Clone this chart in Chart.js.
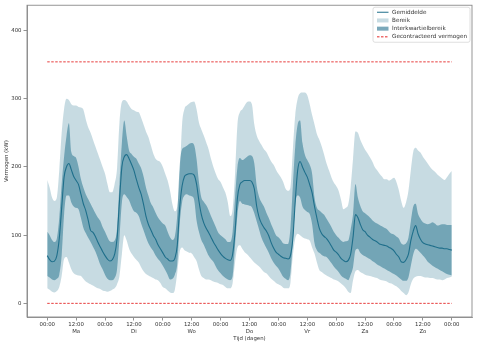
<!DOCTYPE html>
<html>
<head>
<meta charset="utf-8">
<script src="https://cdn.jsdelivr.net/npm/chart.js@4.4.0/dist/chart.umd.min.js"></script>
<style>
  html, body { margin: 0; padding: 0; background: #fff; }
</style>
</head>
<body>
<canvas id="weekChart" width="481" height="346"></canvas>
<script>
// Weekprofiel vermogen, per uur (ma 00:00 t/m ma 00:00)
const dagen = ['Ma', 'Di', 'Wo', 'Do', 'Vr', 'Za', 'Zo'];
const gecontracteerd = 354;

const gemiddelde = [
  70, 64, 61, 62, 70, 95, 140, 185, 200, 205, 196, 186, 180, 174, 160, 146, 136, 122, 107, 104, 98, 90, 83, 76,
  70, 65, 62, 64, 72, 95, 150, 200, 215, 218, 212, 204, 195, 182, 170, 160, 145, 128, 116, 108, 100, 94, 86, 80,
  74, 68, 65, 62, 62, 66, 85, 140, 172, 186, 189, 190, 190, 188, 175, 150, 130, 118, 110, 104, 97, 90, 84, 78,
  73, 69, 66, 64, 63, 72, 105, 155, 174, 178, 180, 180, 180, 178, 168, 142, 126, 117, 111, 106, 99, 89, 81, 75,
  72, 69, 67, 66, 65, 70, 95, 150, 195, 208, 200, 192, 185, 174, 162, 142, 125, 110, 102, 98, 95, 90, 84, 78,
  75, 71, 66, 63, 61, 63, 72, 97, 130, 126, 116, 108, 105, 100, 97, 94, 92, 90, 87, 86, 85, 84, 82, 80,
  77, 72, 68, 61, 60, 64, 72, 92, 106, 114, 102, 94, 89, 87, 86, 85, 84, 83, 82, 81, 81, 80, 80, 79,
  78
];

const kwartiel3 = [
  105, 100, 93, 90, 95, 125, 175, 215, 245, 264, 222, 216, 213, 200, 182, 170, 160, 153, 146, 139, 132, 126, 121, 112,
  105, 97, 91, 90, 92, 110, 175, 235, 268, 245, 224, 219, 215, 212, 205, 198, 186, 170, 158, 147, 141, 133, 126, 121,
  117, 114, 105, 97, 93, 98, 130, 200, 226, 229, 231, 234, 235, 232, 212, 178, 155, 149, 144, 137, 128, 120, 112, 104,
  100, 97, 94, 90, 90, 105, 155, 200, 213, 210, 212, 215, 217, 216, 205, 172, 156, 148, 142, 133, 125, 116, 108, 100,
  97, 93, 88, 87, 87, 110, 172, 230, 262, 268, 235, 218, 210, 203, 190, 155, 140, 136, 133, 130, 124, 118, 112, 105,
  100, 96, 92, 90, 91, 92, 108, 131, 175, 155, 143, 135, 132, 129, 126, 122, 119, 117, 115, 113, 111, 109, 105, 102,
  101, 98, 95, 88, 86, 88, 96, 120, 142, 146, 131, 124, 119, 117, 116, 117, 119, 117, 114, 115, 116, 116, 115, 115,
  115
];

const kwartiel1 = [
  40, 38, 35, 34, 36, 42, 70, 130, 158, 158, 148, 142, 140, 138, 125, 111, 103, 96, 90, 83, 76, 67, 57, 50,
  42, 36, 34, 34, 37, 50, 95, 148, 160, 156, 151, 142, 135, 133, 128, 117, 107, 97, 88, 82, 77, 70, 65, 61,
  55, 49, 42, 35, 36, 42, 58, 115, 148, 158, 160, 158, 157, 152, 122, 105, 93, 86, 78, 70, 65, 61, 54, 48,
  44, 40, 37, 35, 34, 40, 85, 130, 150, 146, 145, 144, 143, 141, 132, 120, 108, 96, 88, 81, 74, 66, 60, 55,
  51, 45, 39, 36, 34, 45, 90, 145, 158, 155, 142, 137, 134, 131, 116, 88, 78, 74, 71, 69, 68, 64, 59, 54,
  50, 46, 41, 38, 36, 34, 42, 53, 78, 80, 74, 71, 69, 67, 65, 62, 60, 57, 55, 53, 51, 49, 47, 45,
  43, 41, 38, 35, 33, 33, 38, 55, 72, 80, 78, 74, 70, 66, 61, 58, 55, 53, 51, 49, 47, 45, 43, 42,
  41
];

const maximum = [
  181, 170, 155, 150, 155, 195, 250, 285, 300, 298, 292, 290, 290, 288, 287, 284, 270, 258, 250, 240, 230, 220, 210, 200,
  190, 175, 163, 163, 175, 198, 265, 295, 298, 296, 290, 285, 283, 281, 280, 272, 262, 252, 244, 232, 220, 212, 209, 207,
  200, 190, 180, 165, 145, 135, 142, 185, 262, 285, 290, 293, 295, 296, 285, 265, 255, 246, 236, 226, 212, 200, 190, 182,
  178, 170, 162, 148, 128, 138, 190, 262, 280, 284, 290, 295, 296, 292, 262, 246, 238, 232, 226, 222, 215, 208, 203, 196,
  190, 185, 178, 168, 165, 170, 225, 276, 300, 308, 309, 309, 305, 292, 276, 262, 248, 240, 230, 218, 205, 195, 185, 177,
  172, 165, 152, 138, 140, 145, 170, 212, 252, 250, 240, 232, 225, 220, 214, 208, 200, 195, 190, 186, 182, 182, 180, 182,
  184, 178, 166, 150, 140, 148, 165, 195, 222, 228, 224, 221, 215, 210, 205, 200, 196, 193, 189, 186, 183, 181, 185, 190,
  194
];

const minimum = [
  22, 20, 17, 16, 18, 24, 40, 65, 68, 60, 50, 44, 42, 41, 40, 36, 32, 30, 28, 26, 24, 22, 21, 19,
  18, 17, 18, 20, 22, 28, 40, 72, 100, 92, 80, 73, 68, 64, 60, 53, 47, 43, 41, 39, 37, 35, 34, 30,
  24, 22, 19, 16, 15, 20, 45, 75, 82, 78, 76, 74, 73, 68, 62, 50, 40, 37, 35, 35, 34, 32, 31, 30,
  28, 27, 24, 22, 22, 30, 60, 82, 85, 80, 75, 72, 68, 64, 60, 57, 54, 50, 46, 44, 40, 36, 33, 30,
  28, 26, 23, 22, 22, 30, 70, 95, 102, 100, 97, 95, 94, 92, 82, 73, 60, 49, 46, 43, 41, 39, 37, 35,
  34, 32, 29, 26, 22, 17, 15, 34, 47, 49, 46, 44, 42, 41, 40, 39, 38, 37, 35, 34, 33, 32, 30, 29,
  27, 25, 22, 18, 15, 12, 16, 28, 36, 39, 40, 40, 39, 38, 38, 37, 37, 36, 35, 35, 34, 35, 37, 38,
  39
];

const uren = gemiddelde.map((_, i) => i);
const laatsteUur = uren[uren.length - 1];
const toPoints = arr => arr.map((v, i) => ({ x: uren[i], y: v }));

const kleur = 'rgb(31, 111, 139)';
const lichtBand = 'rgba(31, 111, 139, 0.25)';
const donkerBand = 'rgba(31, 111, 139, 0.5)';
const rood = 'rgb(228, 40, 40)';
const fontFam = '"DejaVu Sans", sans-serif';

// kader rondom het plotgebied (matplotlib stijl)
const framePlugin = {
  id: 'frame',
  afterDatasetsDraw(chart) {
    const { ctx, chartArea: a } = chart;
    ctx.save();
    ctx.strokeStyle = '#8a8a8a';
    ctx.lineWidth = 0.9;
    ctx.strokeRect(a.left, a.top, a.right - a.left, a.bottom - a.top);
    ctx.restore();
  }
};

// legenda rechtsboven binnen het plotgebied
const legendPlugin = {
  id: 'innerLegend',
  afterDraw(chart) {
    const { ctx, chartArea: a } = chart;
    const x0 = a.right - 99, y0 = a.top + 2, w = 97, h = 35;
    ctx.save();
    ctx.fillStyle = 'rgba(255,255,255,0.85)';
    ctx.strokeStyle = '#d6d6d6';
    ctx.lineWidth = 0.8;
    ctx.beginPath();
    ctx.roundRect(x0, y0, w, h, 2);
    ctx.fill();
    ctx.stroke();

    const items = [
      { label: 'Gemiddelde', type: 'line', color: kleur },
      { label: 'Bereik', type: 'box', color: 'rgb(199, 219, 226)' },
      { label: 'Interkwartielbereik', type: 'box', color: 'rgb(122, 168, 186)' },
      { label: 'Gecontracteerd vermogen', type: 'dash', color: rood }
    ];
    ctx.font = '5.7px ' + fontFam;
    ctx.textBaseline = 'middle';
    items.forEach((it, i) => {
      const y = y0 + 5 + i * 8.2;
      const hx = x0 + 4;
      if (it.type === 'box') {
        ctx.fillStyle = it.color;
        ctx.fillRect(hx, y - 2, 11.5, 4);
      } else {
        ctx.strokeStyle = it.color;
        ctx.lineWidth = 1;
        ctx.setLineDash(it.type === 'dash' ? [2.5, 1.5] : []);
        ctx.beginPath();
        ctx.moveTo(hx, y);
        ctx.lineTo(hx + 11.5, y);
        ctx.stroke();
        ctx.setLineDash([]);
      }
      ctx.fillStyle = '#333';
      ctx.fillText(it.label, x0 + 19, y);
    });
    ctx.restore();
  }
};

const bandLine = {
  borderColor: 'rgba(0,0,0,0)',
  borderWidth: 0.5,
  pointRadius: 0,
  cubicInterpolationMode: 'monotone'
};

new Chart(document.getElementById('weekChart'), {
  type: 'line',
  data: {
    datasets: [
      {
        label: 'Gemiddelde',
        data: toPoints(gemiddelde),
        borderColor: kleur,
        borderWidth: 1.1,
        pointRadius: 0,
        fill: false,
        cubicInterpolationMode: 'monotone'
      },
      {
        label: 'Gecontracteerd vermogen',
        data: [{ x: 0, y: gecontracteerd }, { x: laatsteUur, y: gecontracteerd }],
        borderColor: rood,
        borderWidth: 0.9,
        borderDash: [2.5, 1.5],
        pointRadius: 0,
        fill: false
      },
      {
        label: 'nul',
        data: [{ x: 0, y: 0 }, { x: laatsteUur, y: 0 }],
        borderColor: rood,
        borderWidth: 0.9,
        borderDash: [2.5, 1.5],
        pointRadius: 0,
        fill: false
      },
      Object.assign({ label: 'Q3', data: toPoints(kwartiel3), fill: '+1', backgroundColor: donkerBand }, bandLine),
      Object.assign({ label: 'Q1', data: toPoints(kwartiel1), fill: false }, bandLine),
      Object.assign({ label: 'Max', data: toPoints(maximum), fill: '+1', backgroundColor: lichtBand }, bandLine),
      Object.assign({ label: 'Min', data: toPoints(minimum), fill: false }, bandLine)
    ]
  },
  options: {
    responsive: false,
    animation: false,
    layout: { padding: { top: 2, right: 9, left: 0, bottom: 0 } },
    plugins: {
      legend: { display: false },
      tooltip: { enabled: false }
    },
    scales: {
      x: {
        type: 'linear',
        min: -8.4,
        max: laatsteUur + 8.4,
        afterBuildTicks: scale => {
          const t = [];
          for (let u = 0; u <= laatsteUur; u += 12) t.push({ value: u });
          scale.ticks = t;
        },
        afterFit: scale => { scale.height = 29; },
        grid: { display: true, drawOnChartArea: false, drawTicks: true, tickLength: 3.5, color: '#777', lineWidth: 0.8 },
        border: { display: true, color: '#8a8a8a', width: 0.9 },
        ticks: {
          autoSkip: false,
          maxRotation: 0,
          padding: 1,
          color: '#333',
          font: { family: fontFam, size: 5.4, lineHeight: 1.3 },
          callback: v => (v % 24 === 0 ? '00:00' : ['12:00', dagen[Math.floor(v / 24)]])
        },
        title: {
          display: true,
          text: 'Tijd (dagen)',
          color: '#333',
          font: { family: fontFam, size: 5.4, lineHeight: 1.2 },
          padding: { top: 0, bottom: 4 }
        }
      },
      y: {
        min: -20,
        max: 437,
        afterBuildTicks: scale => {
          scale.ticks = [0, 100, 200, 300, 400].map(v => ({ value: v }));
        },
        afterFit: scale => { scale.width = 27; },
        grid: { display: true, drawOnChartArea: false, drawTicks: true, tickLength: 3.5, color: '#777', lineWidth: 0.8 },
        border: { display: true, color: '#8a8a8a', width: 0.9 },
        ticks: {
          padding: 2,
          color: '#333',
          font: { family: fontFam, size: 5.4 }
        },
        title: {
          display: true,
          text: 'Vermogen (kW)',
          color: '#333',
          font: { family: fontFam, size: 5.4, lineHeight: 1.2 },
          padding: { top: 3, bottom: 0 }
        }
      }
    }
  },
  plugins: [framePlugin, legendPlugin]
});
</script>
</body>
</html>
